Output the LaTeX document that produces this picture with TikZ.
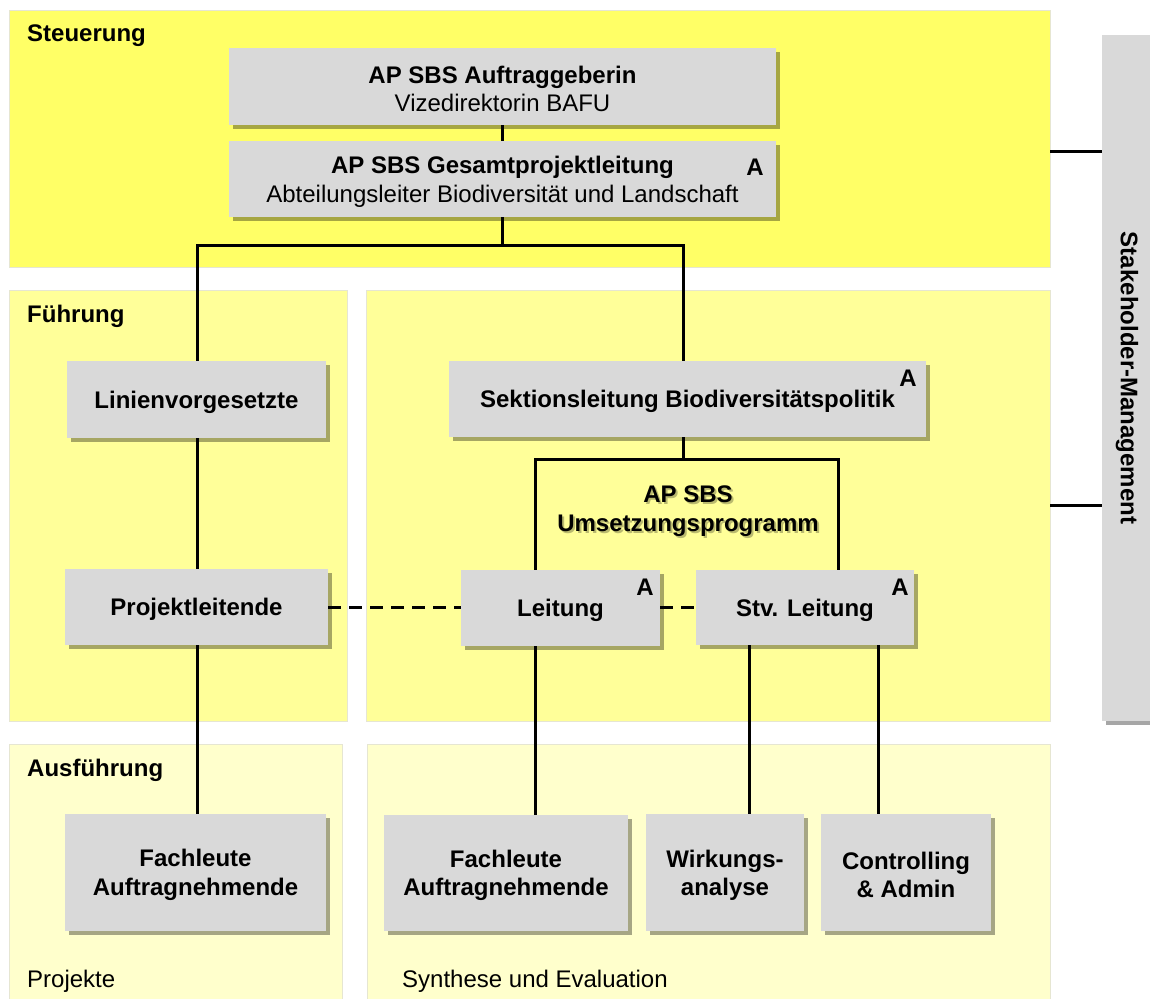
\documentclass[tikz,border=0pt]{standalone}
\usepackage{fontspec}
\setmainfont{Liberation Sans}
\usetikzlibrary{shadows}
\definecolor{ysteu}{HTML}{FFFF66}
\definecolor{yfue}{HTML}{FFFF99}
\definecolor{yaus}{HTML}{FFFFCC}
\definecolor{boxgray}{HTML}{D9D9D9}
\definecolor{panelline}{HTML}{E6E6D2}
\newcommand\tstrut{\rule{0pt}{22.5pt}}
\begin{document}
\begin{tikzpicture}[x=1pt,y=-1pt,
  font=\fontsize{24}{28}\selectfont,
  panel/.style={draw=panelline, line width=0.8pt, inner sep=0pt, anchor=north west},
  gbox/.style={fill=boxgray, draw=none, inner sep=0pt, align=center,
     font=\fontsize{24}{28.5}\selectfont\bfseries,
     drop shadow={shadow xshift=4pt, shadow yshift=-4pt, opacity=0.35, fill=black}},
  hdr/.style={anchor=west, font=\fontsize{24}{28}\selectfont\bfseries, inner sep=0pt},
  foot/.style={anchor=west, font=\fontsize{24}{28}\selectfont, inner sep=0pt},
  amark/.style={font=\fontsize{24}{28}\selectfont\bfseries, inner sep=0pt},
  conn/.style={line width=3pt},
  dconn/.style={line width=3pt, dash pattern=on 13pt off 8pt}]
\useasboundingbox (0,0) rectangle (1150,998);
% panels
\node[panel, fill=ysteu, minimum width=1041pt, minimum height=257pt] (steu) at (9,10) {};
\node[panel, fill=yfue, minimum width=338pt, minimum height=431pt] (fuel) at (9,290) {};
\node[panel, fill=yfue, minimum width=684pt, minimum height=431pt] (fuer) at (366,290) {};
\node[panel, fill=yaus, minimum width=333pt, minimum height=260pt] (ausl) at (9,744) {};
\node[panel, fill=yaus, minimum width=683pt, minimum height=260pt] (ausr) at (367,744) {};
% panel labels
\node[hdr] (lsteu) at (27,35.5) {Steuerung};
\node[hdr] (lfue) at (27,316.5) {Führung};
\node[hdr] (laus) at (27,770.5) {Ausführung};
\node[foot] (lproj) at (27,981) {Projekte};
\node[foot] (lsyn) at (402,981) {Synthese und Evaluation};
% stakeholder box
\node[gbox, minimum width=52pt, minimum height=686pt] (stake) at (1128,378) {};
\node[amark, rotate=-90] (staket) at (1127,378) {Stakeholder-Management};
% boxes
\node[gbox, minimum width=547pt, minimum height=77pt] (auftrag) at (502.5,86.5)
  {\tstrut AP SBS Auftraggeberin\\ \mdseries Vizedirektorin BAFU};
\node[gbox, minimum width=547pt, minimum height=76pt] (gesamt) at (502.5,179)
  {\tstrut AP SBS Gesamtprojektleitung\\ \mdseries Abteilungsleiter Biodiversität und Landschaft};
\node[gbox, minimum width=259pt, minimum height=77pt] (linien) at (196.5,399.5) {\tstrut Linienvorgesetzte};
\node[gbox, minimum width=477pt, minimum height=76pt] (sekt) at (687.5,399) {\tstrut Sektionsleitung Biodiversitätspolitik};
\node[gbox, minimum width=263pt, minimum height=76pt] (proj) at (196.5,607) {\tstrut Projektleitende};
\node[gbox, minimum width=199pt, minimum height=76pt] (leit) at (560.5,608) {\tstrut Leitung};
\node[gbox, minimum width=218pt, minimum height=75pt] (stv) at (805,607.5) {\tstrut Stv. Leitung};
\node[gbox, minimum width=261pt, minimum height=117pt] (fachl) at (195.5,872.5) {\tstrut Fachleute\\Auftragnehmende};
\node[gbox, minimum width=244pt, minimum height=116pt] (fachr) at (506,873) {\tstrut Fachleute\\Auftragnehmende};
\node[gbox, minimum width=158pt, minimum height=117pt] (wirk) at (725,872.5) {\tstrut Wirkungs-\\analyse};
\node[gbox, minimum width=170pt, minimum height=117pt] (contr) at (906,872.5) {\tstrut Controlling\\\& Admin};
% A marks
\node[amark] (agesamt) at (755,167) {A};
\node[amark] (asekt) at (908,378) {A};
\node[amark] (aleit) at (645,587) {A};
\node[amark] (astv) at (900,587) {A};
% program label
\node[amark, align=center, text=black!60!yfue, opacity=0.45, font=\fontsize{24}{29}\selectfont\bfseries] (umsetzs) at (690,513) {AP SBS\\Umsetzungsprogramm};
\node[amark, align=center, font=\fontsize{24}{29}\selectfont\bfseries] (umsetz) at (688,511) {AP SBS\\Umsetzungsprogramm};
% junctions
\coordinate (j1) at (503,245);
\coordinate (j2) at (683,459);
\coordinate (s1) at (1050,151);
\coordinate (s2) at (1050,505);
% connectors
\draw[conn] (auftrag.south) -- (gesamt.north);
\draw[conn] (gesamt.south) -- (gesamt.south |- j1);
\draw[conn] ([xshift=0.5pt]linien.north) |- ([xshift=-4.5pt]sekt.north |- j1) -- ([xshift=-4.5pt]sekt.north);
\draw[conn] ([xshift=0.5pt]linien.south) -- ([xshift=0.5pt]proj.north);
\draw[conn] ([xshift=0.5pt]proj.south) -- ([xshift=0.5pt]proj.south |- fachl.north);
\draw[conn] ([xshift=-4.5pt]sekt.south) -- ([xshift=-4.5pt]sekt.south |- j2);
\draw[conn] ([xshift=-25.5pt]leit.north) |- ([xshift=33pt]stv.north |- j2) -- ([xshift=33pt]stv.north);
\draw[conn] ([xshift=-25.5pt]leit.south) -- ([xshift=-25.5pt]leit.south |- fachr.north);
\draw[conn] ([xshift=-56pt]stv.south) -- ([xshift=-56pt]stv.south |- wirk.north);
\draw[conn] ([xshift=73pt]stv.south) -- ([xshift=73pt]stv.south |- contr.north);
\draw[dconn] (proj.east) -- (proj.east -| leit.west);
\draw[dconn] (leit.east |- stv.west) -- (stv.west);
\draw[conn] (s1) -- (s1 -| stake.west);
\draw[conn] (s2) -- (s2 -| stake.west);
\end{tikzpicture}
\end{document}
